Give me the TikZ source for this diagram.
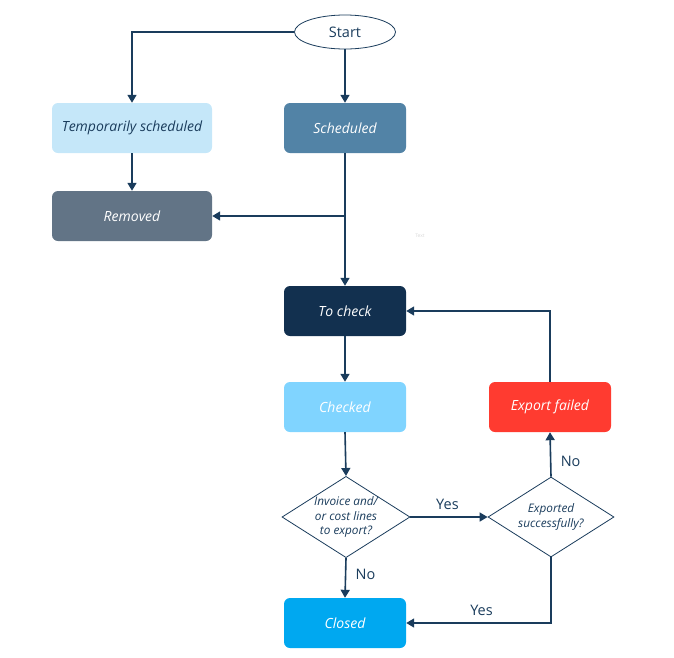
\documentclass[tikz,border=0pt]{standalone}
\usepackage{fontspec}
\setmainfont{Open Sans}
\usetikzlibrary{arrows.meta,shapes.geometric}
\definecolor{ln}{HTML}{1A3C5C}
\definecolor{ctemp}{HTML}{C5E7F9}
\definecolor{csched}{HTML}{5283A6}
\definecolor{crem}{HTML}{627486}
\definecolor{ccheck}{HTML}{12304F}
\definecolor{cchecked}{HTML}{80D4FF}
\definecolor{cfail}{HTML}{FF3B30}
\definecolor{cclosed}{HTML}{00A8F0}
\tikzset{
  box/.style={rectangle,rounded corners=6pt,minimum width=122pt,minimum height=50pt,inner sep=0pt,font=\itshape\fontsize{14}{16}\selectfont,text=white},
  wide/.style={minimum width=160pt},
  dec/.style={diamond,draw=ln,line width=0.8pt,fill=white,aspect=1.575,minimum width=126pt,minimum height=80pt,inner sep=0pt,align=center,font=\itshape\fontsize{11.8}{14.5}\selectfont,text=ln},
  conn/.style={draw=ln,line width=1.6pt,-{Triangle[width=9pt,length=8pt]}},
  lbl/.style={font=\fontsize{14.5}{16}\selectfont,text=ln},
}
\begin{document}
\begin{tikzpicture}[x=1pt,y=-1pt]
\useasboundingbox (0,0) rectangle (674,657);
\node[ellipse,draw=ln,line width=0.8pt,minimum width=101pt,minimum height=34pt,inner sep=0pt,font=\fontsize{14.5}{16}\selectfont,text=ln] (start) at (345,32) {Start};
\node[box,wide,fill=ctemp,text=ln] (temp) at (132,128) {Temporarily scheduled};
\node[box,fill=csched] (sched) at (345,128) {Scheduled};
\node[box,wide,fill=crem] (rem) at (132,216) {Removed};
\node[box,fill=ccheck] (tocheck) at (345,311) {To check};
\node[box,fill=cchecked] (checked) at (345,407) {Checked};
\node[box,fill=cfail] (fail) at (550,407) {Export failed};
\node[dec] (d1) at (346,517) {Invoice and/\\or cost lines\\to export?};
\node[dec] (d2) at (551,517) {Exported\\successfully?};
\node[box,fill=cclosed] (closed) at (345,623) {Closed};
\node[font=\fontsize{5}{6}\selectfont,text=black!15] (txt) at (420,236) {Text};
\coordinate (j) at (345,216);

\draw[conn] (start.west) -| (temp.north);
\draw[conn] (start.south) -- (sched.north);
\draw[conn] (temp.south) -- (rem.north);
\draw[conn] (sched.south) -- (tocheck.north);
\draw[conn] (j) -- (rem.east);
\draw[conn] (tocheck.south) -- (checked.north);
\draw[conn] (checked.south) -- (d1.north);
\draw[conn] (d1.east) -- node[lbl,above=3pt,pos=0.48] {Yes} (d2.west);
\draw[conn] (d1.south) -- node[lbl,right=6pt,pos=0.42] {No} (closed.north);
\draw[conn] (d2.north) -- node[lbl,right=6pt,pos=0.35] {No} (fail.south);
\draw[conn] (fail.north) |- (tocheck.east);
\draw[conn] (d2.south) |- node[lbl,above=3pt,pos=0.74] {Yes} (closed.east);
\end{tikzpicture}
\end{document}
